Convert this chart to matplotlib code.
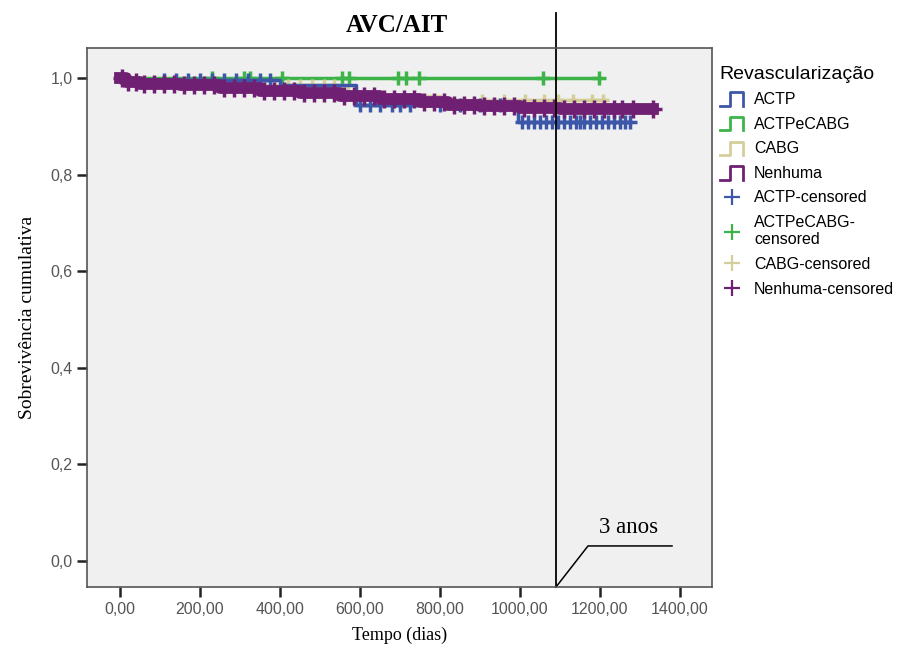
import numpy as np
import matplotlib
matplotlib.use('Agg')
from matplotlib import pyplot as plt
from matplotlib.lines import Line2D
from matplotlib.legend_handler import HandlerBase

# Kaplan-Meier steps (dias, sobrevivencia)
actp_t = [0, 15, 400, 590, 995, 1275]
actp_s = [1.0, 0.996, 0.985, 0.945, 0.909, 0.909]
actp_ct = [110, 140, 170, 200, 230, 260, 290, 320, 350, 375,
           600, 625, 650, 680, 700, 725, 800, 850, 900, 950,
           1005, 1020, 1035, 1050, 1065, 1080, 1095, 1110, 1125, 1140,
           1150, 1160, 1175, 1190, 1205, 1220, 1235, 1250, 1262, 1275]

ac_t = [0, 1200]
ac_s = [1.0, 1.0]
ac_ct = [230, 310, 325, 405, 555, 572, 695, 715, 748, 1058, 1198]

cabg_t = [0, 10, 570, 800, 1218]
cabg_s = [1.0, 0.985, 0.962, 0.954, 0.954]
cabg_ct = [420, 450, 480, 510, 535, 905, 960, 1012, 1060, 1095, 1132, 1180, 1208]

nen_t = [0, 15, 50, 150, 250, 350, 450, 550, 650, 750, 820, 900, 1000, 1100, 1333]
nen_s = [1.0, 0.992, 0.988, 0.985, 0.980, 0.974, 0.968, 0.962, 0.956,
         0.950, 0.945, 0.941, 0.938, 0.936, 0.936]
nen_ct = [5, 20, 40, 60, 85, 110, 135, 160, 185, 210, 235, 260, 285, 310,
          335, 360, 385, 410, 435, 460, 485, 510, 535, 560, 585, 610, 635,
          660, 685, 710, 735, 760, 785, 810, 835, 860, 885, 910, 935, 960,
          985, 1010, 1035, 1060, 1085, 1110, 1135, 1160, 1185, 1210, 1235,
          1255, 1283, 1333]

groups = ['ACTP', 'ACTPeCABG', 'CABG', 'Nenhuma']
colors = ['#3d57a8', '#3cb44a', '#d4cf9a', '#6f2072']

x_ticks = [0, 200, 400, 600, 800, 1000, 1200, 1400]
y_ticks = [0.0, 0.2, 0.4, 0.6, 0.8, 1.0]


def surv_at(t, times, surv):
    idx = np.searchsorted(times, t, side='right') - 1
    return np.array(surv)[idx]


class StepHandler(HandlerBase):
    def create_artists(self, legend, orig_handle, xdescent, ydescent,
                       width, height, fontsize, trans):
        x0 = -xdescent
        y0 = -ydescent - height * 0.15
        xs = [x0, x0 + width * 0.4, x0 + width * 0.4, x0 + width * 0.9, x0 + width * 0.9]
        ys = [y0, y0, y0 + height * 1.2, y0 + height * 1.2, y0]
        ln = Line2D(xs, ys, color=orig_handle.get_color(), lw=2)
        ln.set_transform(trans)
        return [ln]


fig = plt.figure(figsize=(9.1, 6.54), dpi=100)
ax = fig.add_axes([87 / 910, 1 - 587 / 654, 625 / 910, 539 / 654])
ax.set_facecolor('#f0f0f0')

data = [(actp_t, actp_s, actp_ct), (ac_t, ac_s, ac_ct),
        (cabg_t, cabg_s, cabg_ct), (nen_t, nen_s, nen_ct)]
line_w = [2.5, 2.5, 2.5, 8.5]
mark_s = [10, 10, 9, 13]
order = [1, 2, 0, 3]
for i in order:
    t, s, ct = data[i]
    ax.step(t, s, where='post', color=colors[i], lw=line_w[i])
    cs = surv_at(ct, t, s)
    ax.plot(ct, cs, ls='none', marker='+', ms=mark_s[i], mew=2.5, color=colors[i])

step_handles = [Line2D([], [], color=c, lw=2) for c in colors]
cens_handles = [Line2D([], [], color=c, ls='none', marker='+', ms=11, mew=1.6)
                for c in colors]

ax.set_xlim(-82.5, 1480)
ax.set_ylim(-0.054, 1.062)
ax.set_xticks(x_ticks)
ax.set_xticklabels(['%d,00' % v for v in x_ticks])
ax.set_yticks(y_ticks)
ax.set_yticklabels([('%.1f' % v).replace('.', ',') for v in y_ticks])
ax.tick_params(direction='out', length=7, width=1.8, color='#222222',
               labelsize=11.5, labelcolor='#555555')
for lab in ax.get_xticklabels() + ax.get_yticklabels():
    lab.set_fontfamily('Liberation Sans')
for sp in ax.spines.values():
    sp.set_color('#555555')
    sp.set_linewidth(1.2)

ax.set_xlabel('Tempo (dias)', family='Liberation Serif', fontsize=13, labelpad=7)
ax.set_ylabel('Sobrevivência cumulativa', family='Liberation Serif', fontsize=14, labelpad=10)
fig.text(397 / 910, 1 - 25 / 654, 'AVC/AIT', family='Liberation Serif',
         fontsize=18, fontweight='bold', ha='center', va='center')

# linha dos 3 anos e anotacao
ax.plot([1090, 1090], [-0.054, 1.135], color='black', lw=1.3, clip_on=False)
ax.plot([1090, 1170, 1380], [-0.054, 0.031, 0.031], color='black', lw=1.1, clip_on=False)
ax.text(1272, 0.07, '3 anos', family='Liberation Serif', fontsize=16.5,
        ha='center', va='center')

handles = step_handles + cens_handles
labels = groups + ['ACTP-censored', 'ACTPeCABG-\ncensored', 'CABG-censored', 'Nenhuma-censored']
hmap = {h: StepHandler() for h in step_handles}
leg = fig.legend(handles, labels, handler_map=hmap, loc='upper left',
                 bbox_to_anchor=(710 / 910, 1 - 56 / 654), frameon=False,
                 title='Revascularização', alignment='left',
                 prop={'family': 'Liberation Sans', 'size': 11.5},
                 title_fontproperties={'family': 'Liberation Sans', 'size': 14},
                 handlelength=1.6, handletextpad=0.55, labelspacing=0.6,
                 borderpad=0.1)
leg._legend_handle_box.sep = 2

fig.savefig('out.png', dpi=100)
